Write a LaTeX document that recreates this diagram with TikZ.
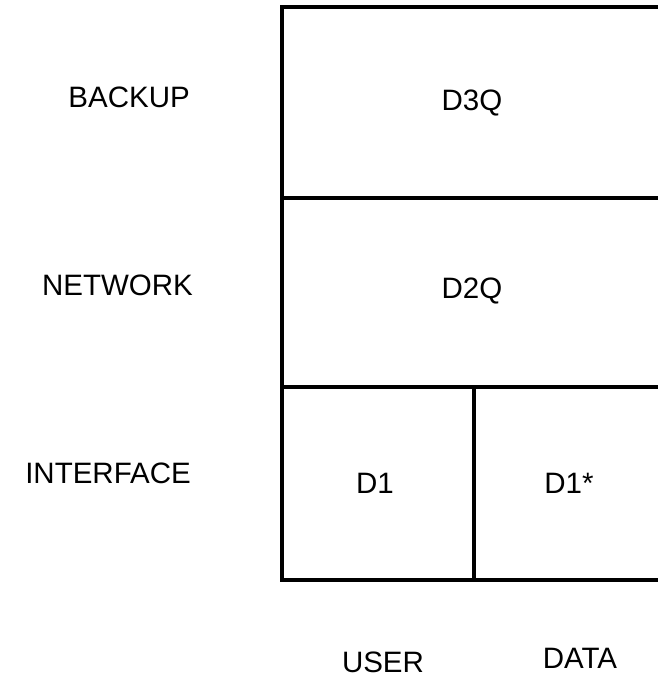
\documentclass[tikz,border=0pt]{standalone}
\usepackage{fontspec}
\setmainfont{Liberation Sans}
\begin{document}
\begin{tikzpicture}[x=1pt,y=-1pt,
  lbl/.style={inner sep=0pt,anchor=base,font=\fontsize{29.5}{35}\selectfont},
  rlbl/.style={lbl,anchor=base east},
  frame/.style={line width=3.2pt,line cap=rect,black}]
\useasboundingbox (0,0) rectangle (657,678);
% frame
\coordinate (tl) at (282,7);
\coordinate (tr) at (660,7);
\coordinate (ml) at (282,198);
\coordinate (mr) at (660,198);
\coordinate (nl) at (282,387);
\coordinate (nr) at (660,387);
\coordinate (bl) at (282,580);
\coordinate (br) at (660,580);
\coordinate (dt) at (474,387);
\coordinate (db) at (474,580);
\draw[frame] (tr) -- (tl) -- (bl) -- (br);
\draw[frame] (ml) -- (mr);
\draw[frame] (nl) -- (nr);
\draw[frame] (dt) -- (db);
% cell texts
\node[lbl] (d3q) at (472,110) {D3Q};
\node[lbl] (d2q) at (472,298) {D2Q};
\node[lbl] (d1) at (375,493) {D1};
\node[lbl] (d1s) at (569,493) {D1*};
% row labels
\node[rlbl] (backup) at (190,107) {BACKUP};
\node[rlbl] (network) at (193,295) {NETWORK};
\node[rlbl] (interface) at (191,483) {INTERFACE};
% column labels
\node[lbl] (user) at (383,672) {USER};
\node[lbl] (data) at (580,668) {DATA};
\end{tikzpicture}
\end{document}
